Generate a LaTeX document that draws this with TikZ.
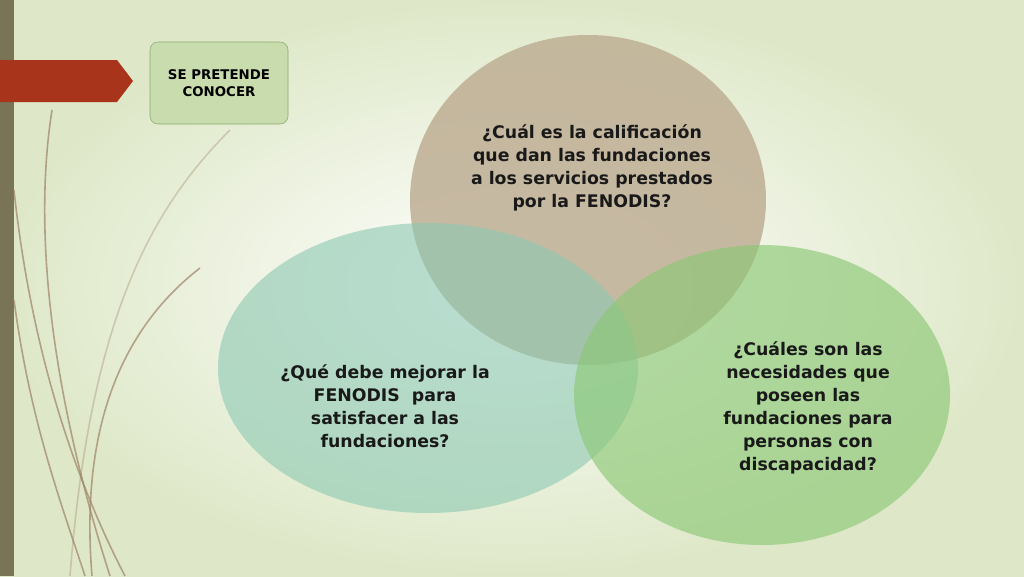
\documentclass[tikz,border=0pt]{standalone}
\usepackage{fontspec}
\setmainfont{DejaVu Sans}
\definecolor{bgout}{RGB}{222,232,200}
\definecolor{bar}{RGB}{122,116,86}
\definecolor{arrowred}{RGB}{168,52,28}
\definecolor{boxline}{RGB}{138,168,112}
\definecolor{boxfill}{RGB}{201,220,174}
\definecolor{topc}{RGB}{190,174,148}
\definecolor{leftc}{RGB}{140,200,178}
\definecolor{rightc}{RGB}{140,200,118}
\begin{document}
\begin{tikzpicture}[x=0.75pt,y=-0.75pt,
  lbl/.style={align=center,font=\bfseries\fontsize{13}{17.3}\selectfont,text=black!90},
  deco/.style={draw=brown!60!black!70,line width=1.2pt,opacity=0.7}]
\useasboundingbox (0,0) rectangle (1024,576);
\fill[inner color=white,outer color=bgout] (0,0) rectangle (1024,576);
\fill[bar] (0,0) rectangle (14,576);
% decorative curves
\draw[deco] (52,110) .. controls (30,250) and (60,420) .. (110,576);
\draw[deco] (14,190) .. controls (30,340) and (70,470) .. (125,576);
\draw[deco] (200,268) .. controls (120,330) and (80,430) .. (92,576);
\draw[deco,opacity=0.35] (230,130) .. controls (150,210) and (90,320) .. (70,576);
\draw[deco] (14,300) .. controls (30,420) and (60,500) .. (85,576);
% arrow
\fill[arrowred] (0,60) -- (117,60) -- (133,81) -- (117,102) -- (0,102) -- cycle;
% box
\node[draw=boxline,fill=boxfill,rounded corners=6pt,minimum width=103.5pt,minimum height=61.5pt,align=center,font=\bfseries\fontsize{10}{13}\selectfont] (box) at (219,83) {SE PRETENDE\\CONOCER};
% ellipses
\fill[topc,opacity=0.85] (588,200) ellipse [x radius=178,y radius=165];
\fill[leftc,opacity=0.6] (428,368) ellipse [x radius=210,y radius=145];
\fill[rightc,opacity=0.65] (762,395) ellipse [x radius=188,y radius=150];
\node[lbl] (t) at (592,168) {¿Cuál es la calificación\\que dan las fundaciones\\a los servicios prestados\\por la FENODIS?};
\node[lbl] (l) at (385,406) {¿Qué debe mejorar la\\FENODIS\ \ para\\satisfacer a las\\fundaciones?};
\node[lbl] (r) at (808,408) {¿Cuáles son las\\necesidades que\\poseen las\\fundaciones para\\personas con\\discapacidad?};
\end{tikzpicture}
\end{document}
